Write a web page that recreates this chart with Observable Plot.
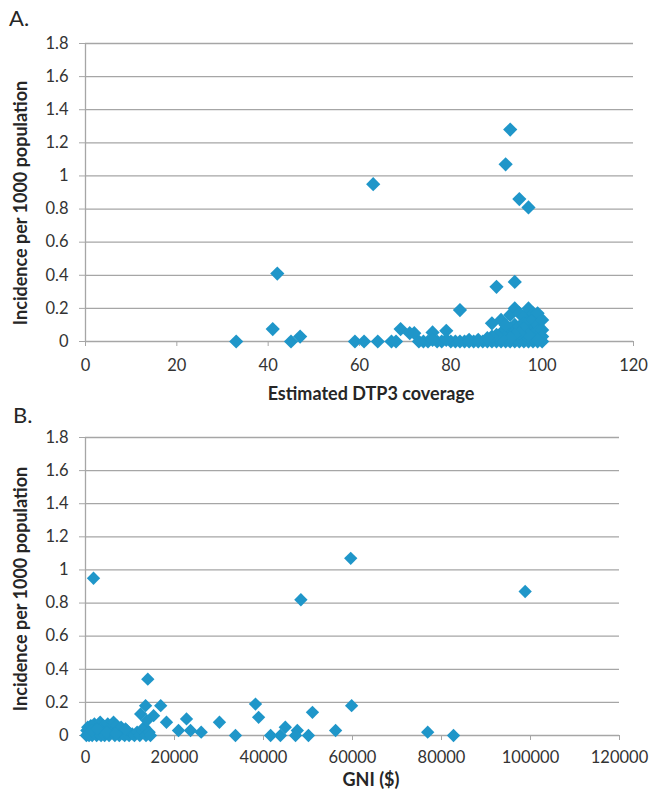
<!DOCTYPE html>
<html>
<head>
<meta charset="utf-8">
<script src="https://cdn.jsdelivr.net/npm/d3@7"></script>
<script src="https://cdn.jsdelivr.net/npm/@observablehq/plot@0.6"></script>
<style>
  html, body { margin: 0; padding: 0; background: #fff; }
  #wrap { position: relative; width: 649px; height: 799px; font-family: Lato, "Open Sans", sans-serif; color: #262626; }
  .panel { position: absolute; left: 0; z-index: 1; }
  #overlay { position: absolute; left: 0; top: 0; z-index: 5; pointer-events: none; }
</style>
</head>
<body>
<div id="wrap">
  <div class="panel" id="pa" style="top:0px;"></div>
  <div class="panel" id="pb" style="top:400px;"></div>
</div>
<script>
// Panel A: estimated DTP3 coverage (%) vs incidence per 1000 population
const dtpCoverage = [33,41,42,45,47,59,61,64,67,68,63,69,71,72,74,75,76,77,78,79,80,81,82,82,83,84,85,86,87,88,88,89,89,90,90,90,91,91,91,92,92,92,92,93,93,93,93,93,94,94,94,94,94,94,95,95,95,95,95,96,96,96,96,97,97,97,97,97,97,98,98,98,98,98,99,99,99,99,99,100,100,100,100,96,98,99,97,95,94,93,91,90,89,92,73,76,79,84,86,88];
const dtpIncidence = [0,0.075,0.41,0,0.03,0,0,0,0,0,0.95,0.075,0.05,0.05,0,0,0.055,0,0,0.065,0,0,0.19,0,0,0.01,0,0.01,0,0,0.01,0.11,0,0.33,0,0.02,0.13,0,0.05,1.07,0.07,0,0.03,1.28,0.16,0,0.04,0.08,0.36,0.2,0.1,0,0.02,0.06,0.86,0.17,0,0.03,0.09,0.15,0,0.05,0.11,0.81,0.2,0.12,0,0.06,0.02,0.17,0.08,0,0.04,0.13,0.17,0.1,0,0.06,0.03,0.13,0.07,0,0.03,0.08,0.02,0.01,0.04,0.05,0.04,0.02,0.02,0.04,0.03,0.1,0,0.01,0.01,0,0,0.02];

// Panel B: GNI ($) vs incidence per 1000 population
const gni = [200,300,500,600,800,1000,1200,1500,1800,2000,2200,2500,2800,3000,3300,3500,3800,4000,4300,4600,5000,5300,5600,6000,6300,6600,7000,7300,7600,8000,8400,8800,9300,9800,10500,11000,11600,12200,12800,13200,13600,14000,14300,14600,13500,16900,12400,15300,18200,13800,20900,23600,26000,22700,30100,33700,38200,38900,41600,43800,44900,47600,47200,50100,51000,48400,56200,59800,59600,76900,82700,98800,1400,2600,4800,6800,9000];
const gniIncidence = [0,0.03,0.05,0.01,0,0.02,0.06,0,0.95,0.07,0.03,0,0.05,0.01,0.08,0,0.04,0.06,0,0.03,0.07,0,0.05,0.02,0.08,0,0.06,0.03,0,0.05,0.01,0,0.03,0,0.01,0,0.02,0,0.03,0.05,0,0.34,0.02,0,0.18,0.18,0.13,0.12,0.08,0.09,0.03,0.03,0.02,0.1,0.08,0,0.19,0.11,0,0,0.05,0.03,0,0,0.14,0.82,0.03,0.18,1.07,0.02,0,0.87,0.03,0.04,0.02,0.01,0.04];

const yTicks = [0,0.2,0.4,0.6,0.8,1,1.2,1.4,1.6,1.8];
const xTicksA = [0,20,40,60,80,100,120];
const xTicksB = [0,20000,40000,60000,80000,100000,120000];

const panelLetters = ["A.", "B."];
const yTitle = "Incidence per 1000 population";
const xTitles = ["Estimated DTP3 coverage", "GNI ($)"];

const dotColor = "#1f96c9";
const gridColor = "#a6a6a6";
const textColor = "#333333";
const fmtY = d => String(+d.toFixed(1));

function panel({xs, ys, xDomain, xTicks, width, height, margins, r, pad}) {
  const data = xs.map((x, i) => ({x, y: ys[i]}));
  return Plot.plot({
    width, height,
    marginLeft: margins[3], marginRight: margins[1], marginTop: margins[0], marginBottom: margins[2],
    style: {fontFamily: "Lato, 'Open Sans', sans-serif", fontSize: "16.5px", color: textColor, background: "transparent", overflow: "visible"},
    x: {domain: xDomain},
    y: {domain: [0, 1.8]},
    marks: [
      Plot.ruleY(yTicks, {stroke: gridColor, strokeWidth: 1.3}),
      Plot.ruleX([xDomain[0]], {stroke: gridColor, strokeWidth: 1.3}),
      Plot.axisY({ticks: yTicks, tickFormat: fmtY, tickSize: 6, tickPadding: 11, stroke: gridColor, fill: textColor, label: null}),
      Plot.axisX({ticks: xTicks, tickFormat: d => String(d), tickSize: 5, tickPadding: pad, stroke: gridColor, fill: textColor, label: null}),
      Plot.dot(data, {x: "x", y: "y", symbol: "diamond2", r, fill: dotColor, stroke: "none"})
    ]
  });
}

document.getElementById("pa").appendChild(panel({
  xs: dtpCoverage, ys: dtpIncidence, xDomain: [0, 120], xTicks: xTicksA,
  width: 649, height: 400, margins: [43, 16, 59, 85], r: 6.4, pad: 13
}));
document.getElementById("pb").appendChild(panel({
  xs: gni, ys: gniIncidence, xDomain: [0, 120000], xTicks: xTicksB,
  width: 649, height: 399, margins: [37, 30, 64, 85], r: 6, pad: 11
}));

// Overlay with panel letters and axis titles
const svg = d3.select("#wrap").append("svg").attr("id", "overlay")
  .attr("width", 649).attr("height", 799)
  .style("font-family", "Lato, 'Open Sans', sans-serif").style("fill", "#262626");

const letterPos = [[9, 26], [13, 423]];
panelLetters.forEach((t, i) => {
  svg.append("text").attr("x", letterPos[i][0]).attr("y", letterPos[i][1])
    .attr("font-size", 22).text(t);
});
const yTitleCenters = [203, 589];
yTitleCenters.forEach(cy => {
  svg.append("text").attr("transform", `translate(21,${cy}) rotate(-90)`)
    .attr("text-anchor", "middle").attr("dy", "0.35em")
    .attr("font-size", 18).attr("font-weight", "bold").text(yTitle);
});
const xTitleCenters = [394, 780];
xTitles.forEach((t, i) => {
  svg.append("text").attr("x", 371).attr("y", xTitleCenters[i])
    .attr("text-anchor", "middle").attr("dy", "0.35em")
    .attr("font-size", 18).attr("font-weight", "bold").text(t);
});
</script>
</body>
</html>
